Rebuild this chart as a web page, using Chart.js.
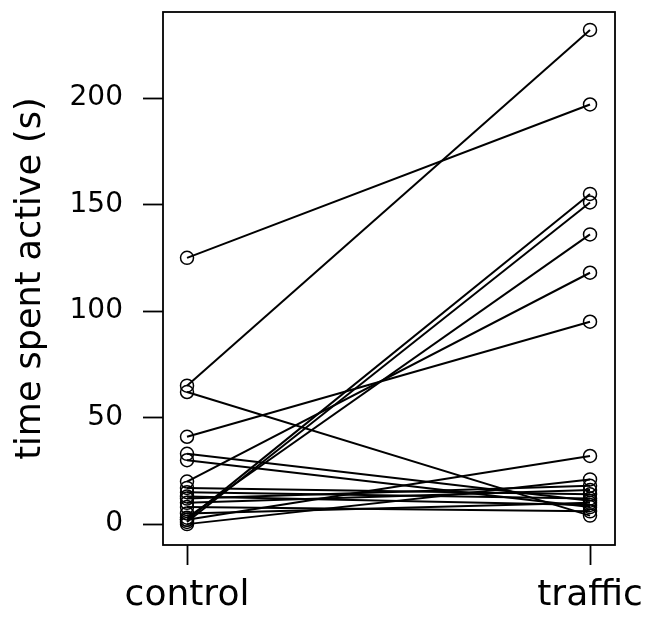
<!DOCTYPE html>
<html>
<head>
<meta charset="utf-8">
<script src="https://cdn.jsdelivr.net/npm/chart.js@4.4.1/dist/chart.umd.min.js"></script>
<style>
  html, body { margin: 0; padding: 0; background: #fff; }
  #wrap { width: 646px; height: 619px; }
</style>
</head>
<body>
<div id="wrap"><canvas id="c" width="646" height="619"></canvas></div>
<script>
// ---- data ----
const categories = ["control", "traffic"];
const controlValues = [125, 65, 62, 41, 33, 30, 20, 2, 1, 3, 2, 17, 15, 12, 10, 5, 0, 13, 8];
const trafficValues = [197, 232, 4, 95, 11, 8, 118, 155, 151, 136, 32, 14, 12, 18, 16, 10, 21, 9, 6];
const yTickValues = [0, 50, 100, 150, 200];
const yTitle = "time spent active (s)";

const FONT = "DejaVu Sans";

const datasets = controlValues.map((c, i) => ({
  data: [{ x: 1, y: c }, { x: 2, y: trafficValues[i] }],
  showLine: true,
  borderColor: "#000",
  borderWidth: 2,
  pointStyle: "circle",
  pointRadius: 6.5,
  pointBorderWidth: 1.5,
  pointBorderColor: "#000",
  pointBackgroundColor: "rgba(0,0,0,0)",
  backgroundColor: "rgba(0,0,0,0)"
}));

const boxPlugin = {
  id: "box",
  afterDraw(chart) {
    const a = chart.chartArea, ctx = chart.ctx;
    ctx.save();
    ctx.strokeStyle = "#000";
    ctx.lineWidth = 1.8;
    ctx.strokeRect(a.left, a.top, a.right - a.left, a.bottom - a.top);
    ctx.restore();
  }
};

new Chart(document.getElementById("c"), {
  type: "scatter",
  data: { datasets },
  plugins: [boxPlugin],
  options: {
    responsive: false,
    animation: false,
    events: [],
    layout: { padding: { left: 10, right: 31, top: 12, bottom: 0 } },
    plugins: { legend: { display: false }, tooltip: { enabled: false } },
    scales: {
      x: {
        type: "linear",
        min: 0.9404,
        max: 2.062,
        afterBuildTicks: (s) => { s.ticks = categories.map((_, i) => ({ value: i + 1 })); },
        afterFit: (s) => { s.height = 74; s.paddingLeft = 0; s.paddingRight = 0; },
        grid: { display: true, drawOnChartArea: false, drawTicks: true, tickLength: 20, tickColor: "#000", tickWidth: 1.8 },
        border: { display: false },
        ticks: {
          color: "#000",
          font: { family: FONT, size: 36 },
          padding: 9,
          maxRotation: 0,
          autoSkip: false,
          callback: (v) => categories[Math.round(v) - 1] ?? ""
        }
      },
      y: {
        type: "linear",
        min: -9.8,
        max: 240.4,
        afterBuildTicks: (s) => { s.ticks = yTickValues.map(v => ({ value: v })); },
        afterFit: (s) => { s.width = 153; s.paddingTop = 0; s.paddingBottom = 0; },
        grid: { display: true, drawOnChartArea: false, drawTicks: true, tickLength: 20, tickColor: "#000", tickWidth: 1.8 },
        border: { display: false },
        ticks: {
          color: "#000",
          font: { family: FONT, size: 28 },
          padding: 20
        },
        title: {
          display: true,
          text: yTitle,
          color: "#000",
          font: { family: FONT, size: 35 },
          padding: { top: 0, bottom: 0 }
        }
      }
    }
  }
});
</script>
</body>
</html>
